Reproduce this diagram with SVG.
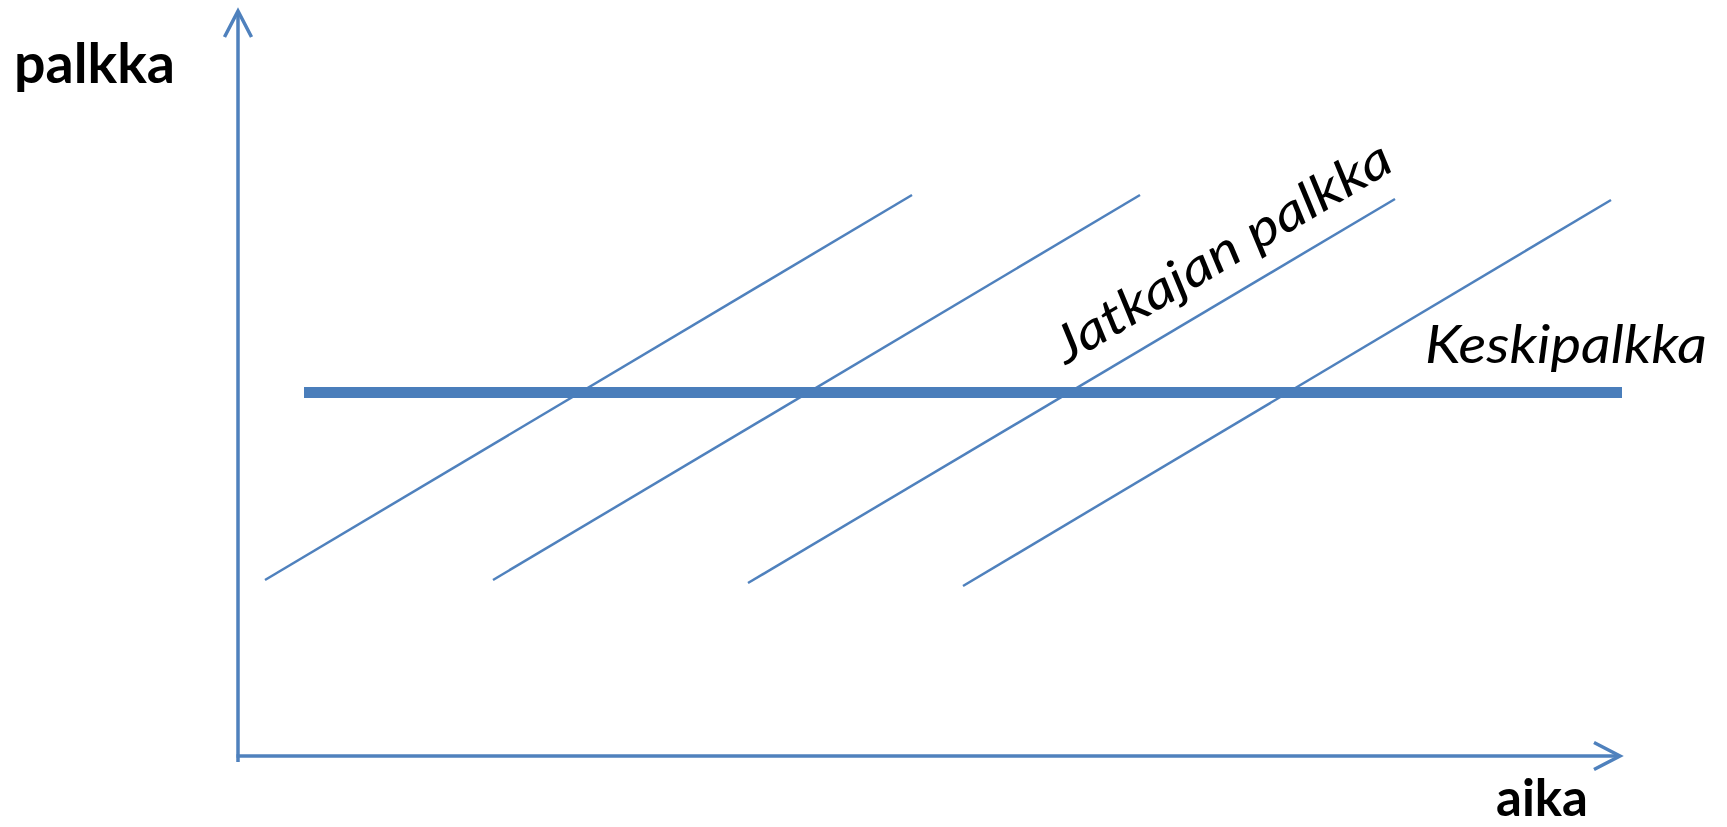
<svg xmlns="http://www.w3.org/2000/svg" width="1727" height="827" viewBox="0 0 1727 827">
<style>
.axis{stroke:#4f81bd;stroke-width:3.5;fill:none}
.thin{stroke:#4f81bd;stroke-width:2.5;fill:none}
.thick{stroke:#4a7ebb;stroke-width:11;fill:none}
.bold{font-family:Lato,"Liberation Sans",sans-serif;font-weight:bold;fill:#000}
.ital{font-family:Lato,"Liberation Sans",sans-serif;font-style:italic;fill:#000}
</style>
<defs>
<marker id="arr" markerUnits="userSpaceOnUse" markerWidth="40" markerHeight="40" viewBox="-30 -20 40 40" refX="0" refY="0" orient="auto" overflow="visible">
<path d="M -26 -13.5 L 0 0 L -26 13.5" fill="none" stroke="#4f81bd" stroke-width="3.5" stroke-linejoin="miter"/>
</marker>
</defs>
<rect width="1727" height="827" fill="#fff"/>
<g id="connectors">
<line class="axis" x1="238" y1="762" x2="238" y2="11" marker-end="url(#arr)"/>
<line class="axis" x1="236.5" y1="756" x2="1620" y2="756" marker-end="url(#arr)"/>
<line class="thin" x1="265" y1="580" x2="912" y2="195"/>
<line class="thin" x1="493" y1="580" x2="1140" y2="195"/>
<line class="thin" x1="748" y1="583" x2="1395" y2="199"/>
<line class="thin" x1="963" y1="586" x2="1611" y2="200"/>
<line class="thick" x1="304" y1="392.5" x2="1622" y2="392.5"/>
</g>
<g id="label-palkka"><text class="bold" x="14" y="83" font-size="56" textLength="161" lengthAdjust="spacingAndGlyphs">palkka</text></g>
<g id="label-aika"><text class="bold" x="1496" y="816" font-size="52" textLength="92" lengthAdjust="spacingAndGlyphs">aika</text></g>
<g id="label-keskipalkka"><text class="ital" x="1425" y="363" font-size="52" textLength="282" lengthAdjust="spacingAndGlyphs">Keskipalkka</text></g>
<g id="label-jatkajan"><text class="ital" font-size="51" transform="translate(1066,365) rotate(-30.7)" textLength="384" lengthAdjust="spacingAndGlyphs">Jatkajan palkka</text></g>
</svg>
